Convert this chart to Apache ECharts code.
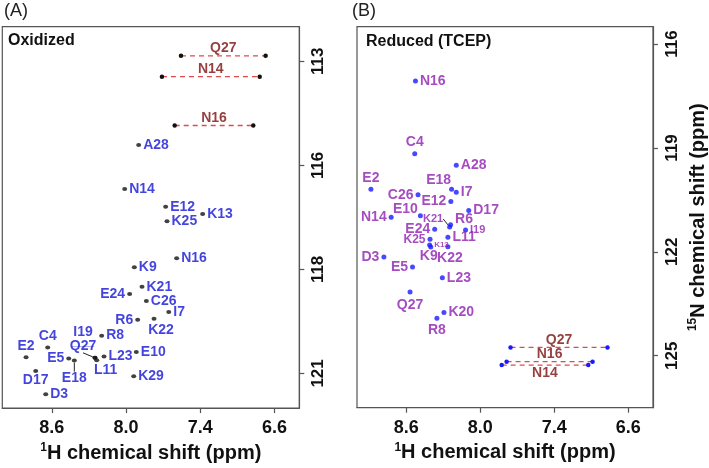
<!DOCTYPE html>
<html>
<head>
<meta charset="utf-8">
<script src="https://cdn.jsdelivr.net/npm/echarts@6/dist/echarts.min.js"></script>
<style>
html,body{margin:0;padding:0;background:#fff;}
#chart{width:709px;height:468px;}
</style>
</head>
<body>
<div id="chart"></div>
<script>
// ---------- tick labels ----------
const hTickValues = [8.6, 8.0, 7.4, 6.8];
const hTickLabels = ['8.6', '8.0', '7.4', '6.6'];
const nTickValuesA = [113, 116, 119, 122];
const nTickLabelsA = ['113', '116', '118', '121'];
const nTickValuesB = [116, 119, 122, 125];
const nTickLabelsB = ['116', '119', '122', '125'];

// ---------- Panel A: oxidized backbone peaks ----------
const oxNames = ['A28','N14','E12','K13','K25','N16','K9','K21','E24','C26','I7','R6','K22','R8','C4','E2','E5','E18','Q27','I19','L11','L23','E10','D17','K29','D3'];
const oxH     = [7.898,8.011,7.680,7.381,7.669,7.591,7.933,7.871,7.971,7.836,7.655,7.906,7.774,8.197,8.633,8.808,8.463,8.418,8.251,8.251,8.237,8.178,7.917,8.730,7.938,8.649];
const oxN     = [115.41,116.68,117.19,117.40,117.61,118.68,118.94,119.50,119.71,119.91,120.23,120.45,120.42,120.91,121.25,121.53,121.57,121.63,121.55,121.55,121.62,121.51,121.38,121.93,122.08,122.60];

// Panel A: side-chain NH2 pairs
const oxScNames = ['Q27','N14','N16'];
const oxScH1    = [7.556, 7.710, 7.607];
const oxScH2    = [6.872, 6.920, 6.972];
const oxScN     = [112.84, 113.44, 114.85];

// ---------- Panel B: reduced backbone peaks ----------
const redNames = ['N16','C4','A28','E2','E18','I7','C26','E12','D17','N14','E10','K21','R6','I19','E24','L11','K25','K13','K9','K22','D3','E5','L23','Q27','K20','R8'];
const redH     = [8.526,8.532,8.195,8.887,8.233,8.195,8.505,8.239,8.094,8.723,8.486,8.249,8.241,8.120,8.370,8.263,8.408,8.411,8.402,8.263,8.782,8.550,8.308,8.570,8.295,8.352];
const redN     = [117.07,119.17,119.50,120.19,120.19,120.28,120.35,120.55,120.81,121.00,120.96,121.28,121.22,121.37,121.35,121.58,121.64,121.80,121.86,121.85,122.15,122.44,122.75,123.16,123.75,123.92];

// Panel B: side-chain NH2 pairs
const redScNames = ['Q27','N16','N14'];
const redScH1    = [7.755, 7.787, 7.827];
const redScH2    = [6.969, 7.090, 7.125];
const redScN     = [124.76, 125.17, 125.27];

// ---------- label placement (style only) ----------
// [position, dx, dy, fontSize, leaderLine, underline]
const placeA = {
  C4:['top',0,0], E2:['top',0,0], E24:['left'], R6:['left'], E5:['left'],
  K22:['bottom',7,0], E18:['bottom',0,7,14,true], Q27:['top',-12,-1,14,true], I19:['top',-12,-10,14,false,true],
  L11:['bottom',9,-1], D17:['bottom',0,-2]
};
const placeB = {
  C4:['top'], E2:['top'], E18:['left',4,-9], C26:['left'], E12:['left'], N14:['left'],
  E10:['left',2,-7], K21:['left',-2,-8,11,true], R6:['right',0,-6], I19:['right',0,0,11],
  E24:['left'], K25:['left',0,0,12], K13:['right',0,0,8], K9:['bottom',-2,-2],
  K22:['bottom',2,0], D3:['left'], E5:['left'], Q27:['bottom',0,2], R8:['bottom']
};

const FONT = '"Liberation Sans", Arial, Helvetica, sans-serif';
const BLUE_LBL = '#1414d4';
const PURPLE_LBL = '#8f1fb0';
const DARKRED = '#7c0f0f';
const DASH = '#dd4c4c';

function peakData(names, hs, ns, place, color) {
  return names.map((nm, i) => {
    const p = place[nm] || ['right'];
    const fs = p[3] || 14;
    const item = {
      name: nm,
      value: [hs[i], ns[i]],
      label: {position: p[0], fontSize: fs}
    };
    if (p[4]) {
      item.labelLine = {show: true, lineStyle: {color: '#222', width: 1}};
    }
    if (p[5]) {
      item.label.formatter = '{t|{b}}\n{u|____}';
      item.label.rich = {
        t: {fontFamily: FONT, fontWeight: 'bold', fontSize: fs, color: color, lineHeight: 15},
        u: {fontFamily: FONT, fontWeight: 'bold', fontSize: 10, lineHeight: 4, color: color}
      };
    }
    return item;
  });
}

function placeLayout(names, place) {
  return function (params) {
    const p = place[names[params.dataIndex]];
    if (p) return {dx: p[1] || 0, dy: p[2] || 0};
    return {};
  };
}

function hAxis(idx) {
  return {
    type: 'value', gridIndex: idx, min: 6.6, max: 9.0, inverse: true,
    splitLine: {show: false},
    axisLine: {show: true, lineStyle: {color: '#555', width: 1.2}},
    axisTick: {show: true, length: 5, customValues: hTickValues, lineStyle: {color: '#555', width: 1.2}},
    axisLabel: {
      customValues: hTickValues, margin: 11,
      fontFamily: FONT, fontSize: 18, fontWeight: 'bold', color: '#111',
      formatter: v => { const k = hTickValues.findIndex(t => Math.abs(t - v) < 1e-6); return k >= 0 ? hTickLabels[k] : ''; }
    },
    name: '{sup|1}H chemical shift (ppm)',
    nameLocation: 'middle', nameGap: 32,
    nameTextStyle: {fontFamily: FONT, fontSize: 20, fontWeight: 'bold', color: '#111',
      rich: {sup: {fontFamily: FONT, fontSize: 12, fontWeight: 'bold', color: '#111', verticalAlign: 'top', padding: [0,0,10,0]}}}
  };
}

function nAxis(idx, min, max, vals, labels, withName) {
  const ax = {
    type: 'value', gridIndex: idx, min: min, max: max, inverse: true, position: 'right',
    splitLine: {show: false},
    axisLine: {show: true, lineStyle: {color: '#555', width: 1.2}},
    axisTick: {show: true, length: 5, customValues: vals, lineStyle: {color: '#555', width: 1.2}},
    axisLabel: {
      customValues: vals, margin: 11, rotate: 90,
      fontFamily: FONT, fontSize: 17, fontWeight: 'bold', color: '#111',
      formatter: v => { const k = vals.findIndex(t => Math.abs(t - v) < 1e-6); return k >= 0 ? labels[k] : ''; }
    }
  };
  if (withName) {
    ax.name = '{sup|15}N chemical shift (ppm)';
    ax.nameLocation = 'middle';
    ax.nameGap = 34;
    ax.nameRotate = 90;
    ax.nameTextStyle = {fontFamily: FONT, fontSize: 20, fontWeight: 'bold', color: '#111',
      rich: {sup: {fontFamily: FONT, fontSize: 12, fontWeight: 'bold', color: '#111', padding: [0,0,10,0]}}};
  }
  return ax;
}

function scSeries(idx, names, h1, h2, n, dotColor, lblPos) {
  const out = [];
  names.forEach((nm, i) => {
    out.push({
      type: 'line', xAxisIndex: idx, yAxisIndex: idx,
      data: [[h1[i], n[i]], [h2[i], n[i]]],
      symbol: 'circle', symbolSize: 4.5, showSymbol: true,
      itemStyle: {color: dotColor},
      lineStyle: {color: DASH, width: 1.3, type: [5, 4]},
      silent: true, animation: false, z: 3
    });
    const pos = lblPos[i];
    out.push({
      type: 'scatter', xAxisIndex: idx, yAxisIndex: idx,
      data: [{name: nm, value: [(h1[i] + h2[i]) / 2, n[i]]}],
      symbolSize: 1, itemStyle: {color: 'rgba(0,0,0,0)'},
      label: {show: true, formatter: '{b}', position: pos[0], distance: pos[1],
        fontFamily: FONT, fontSize: 14, fontWeight: 'bold', color: DARKRED},
      silent: true, animation: false, z: 4
    });
  });
  return out;
}

const chart = echarts.init(document.getElementById('chart'), null, {renderer: 'canvas'});
const option = {
  animation: false,
  backgroundColor: '#fff',
  grid: [
    {left: 2.3, top: 26.7, width: 297, height: 382, show: true, borderColor: '#555', borderWidth: 1.2, containLabel: false},
    {left: 357, top: 26.7, width: 297.3, height: 381, show: true, borderColor: '#555', borderWidth: 1.2, containLabel: false}
  ],
  xAxis: [hAxis(0), hAxis(1)],
  yAxis: [
    nAxis(0, 112, 123, nTickValuesA, nTickLabelsA, false),
    nAxis(1, 115.5, 126.5, nTickValuesB, nTickLabelsB, true)
  ],
  graphic: [
    {type: 'text', left: 4, top: 2, style: {text: '(A)', fontFamily: FONT, fontSize: 18, fill: '#222'}},
    {type: 'text', left: 352, top: 2, style: {text: '(B)', fontFamily: FONT, fontSize: 18, fill: '#222'}},
    {type: 'text', left: 8, top: 33, style: {text: 'Oxidized', fontFamily: FONT, fontSize: 16, fontWeight: 'bold', fill: '#111'}},
    {type: 'text', left: 366, top: 34, style: {text: 'Reduced (TCEP)', fontFamily: FONT, fontSize: 16, fontWeight: 'bold', fill: '#111'}}
  ],
  series: [
    {
      type: 'scatter', xAxisIndex: 0, yAxisIndex: 0,
      data: peakData(oxNames, oxH, oxN, placeA, BLUE_LBL),
      symbol: 'circle', symbolSize: [5, 4], itemStyle: {color: '#111'},
      label: {show: true, formatter: '{b}', distance: 2, fontFamily: FONT, fontWeight: 'bold', color: BLUE_LBL},
      labelLayout: placeLayout(oxNames, placeA),
      animation: false, z: 5
    },
    {
      type: 'scatter', xAxisIndex: 1, yAxisIndex: 1,
      data: peakData(redNames, redH, redN, placeB, PURPLE_LBL),
      symbol: 'circle', symbolSize: 5, itemStyle: {color: '#1a1aff'},
      label: {show: true, formatter: '{b}', distance: 2, fontFamily: FONT, fontWeight: 'bold', color: PURPLE_LBL},
      labelLayout: placeLayout(redNames, placeB),
      animation: false, z: 5
    }
  ]
    .concat(scSeries(0, oxScNames, oxScH1, oxScH2, oxScN, '#111', [['top', 0], ['top', 0], ['top', 0]]))
    .concat(scSeries(1, redScNames, redScH1, redScH2, redScN, '#1a1aff', [['top', 0], ['top', 0], ['bottom', 1]]))
};
chart.setOption(option);
</script>
</body>
</html>
